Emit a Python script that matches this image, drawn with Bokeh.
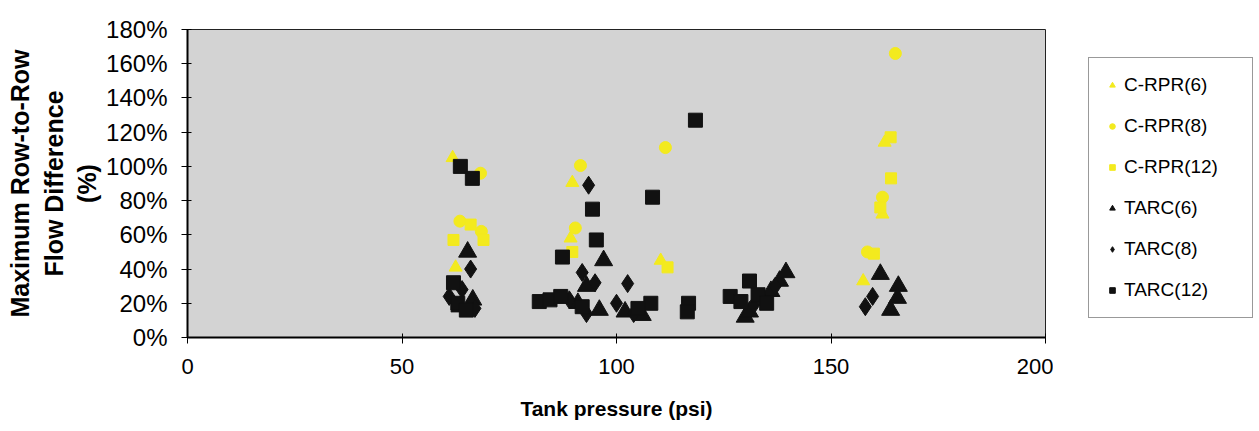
from bokeh.plotting import figure
from bokeh.layouts import row
from bokeh.models import Legend, LegendItem, NumeralTickFormatter, FixedTicker, Range1d
from bokeh.embed import file_html
from bokeh.resources import INLINE

# Tank pressure (psi) and maximum row-to-row flow difference (fraction)
crpr6_x = [61.8, 62.5, 89.7, 89.3, 110.3, 162.5, 162.0, 157.5]
crpr6_y = [1.05, 0.41, 0.905, 0.58, 0.45, 1.14, 0.72, 0.33]

crpr8_x = [68.3, 63.5, 68.5, 91.6, 90.4, 111.4, 165.0, 162.0, 158.5]
crpr8_y = [0.96, 0.68, 0.62, 1.005, 0.64, 1.11, 1.66, 0.82, 0.50]

crpr12_x = [66.0, 69.0, 62.0, 89.7, 111.9, 163.9, 164.0, 160.0, 161.5]
crpr12_y = [0.66, 0.57, 0.57, 0.50, 0.41, 1.17, 0.93, 0.49, 0.76]

tarc6_x = [65.3, 66.5, 97.0, 93.0, 91.0, 96.0, 102.0, 106.0, 130.0, 131.0, 136.0, 138.0, 139.5,
           161.5, 165.7, 165.5, 163.9, 63.5]
tarc6_y = [0.50, 0.22, 0.45, 0.30, 0.20, 0.16, 0.15, 0.13, 0.12, 0.15, 0.27, 0.33, 0.38,
           0.37, 0.30, 0.23, 0.16, 0.18]

tarc8_x = [93.5, 102.6, 66.0, 92.0, 95.0, 89.0, 93.0, 100.0, 104.0, 132.0, 134.0, 137.0,
           159.7, 158.0, 64.0, 61.0, 67.0]
tarc8_y = [0.89, 0.315, 0.40, 0.38, 0.32, 0.22, 0.14, 0.20, 0.14, 0.19, 0.22, 0.30,
           0.24, 0.18, 0.28, 0.24, 0.17]

tarc12_x = [63.6, 66.4, 87.4, 94.4, 95.3, 108.4, 118.4, 62.0, 63.0, 82.0, 84.5, 87.0,
            108.0, 105.0, 116.8, 116.5, 126.5, 129.0, 131.0, 133.0, 135.0, 92.0, 65.0]
tarc12_y = [1.00, 0.93, 0.47, 0.75, 0.57, 0.82, 1.27, 0.32, 0.20, 0.21, 0.22, 0.24,
            0.20, 0.17, 0.20, 0.15, 0.24, 0.21, 0.33, 0.25, 0.20, 0.18, 0.16]

series_labels = ["C-RPR(6)", "C-RPR(8)", "C-RPR(12)", "TARC(6)", "TARC(8)", "TARC(12)"]
y_ticks = [0, 0.2, 0.4, 0.6, 0.8, 1.0, 1.2, 1.4, 1.6, 1.8]
x_ticks = [0, 50, 100, 150, 200]

YEL = "#f3ea1e"
BLK = "#111111"
FONT = "Liberation Sans"

styles = [
    dict(marker="triangle", size=13, fill_color=YEL, line_color=YEL),
    dict(marker="circle", size=12, fill_color=YEL, line_color=YEL),
    dict(marker="square", size=11, fill_color=YEL, line_color=YEL),
    dict(marker="triangle", size=18, fill_color=BLK, line_color=BLK),
    dict(marker="diamond", size=18, fill_color=BLK, line_color=BLK),
    dict(marker="square", size=14, fill_color=BLK, line_color=BLK),
]
series = [(crpr6_x, crpr6_y), (crpr8_x, crpr8_y), (crpr12_x, crpr12_y),
          (tarc6_x, tarc6_y), (tarc8_x, tarc8_y), (tarc12_x, tarc12_y)]

MAIN_W = 1053
p = figure(width=MAIN_W, height=431, output_backend="svg", toolbar_location=None,
           x_range=Range1d(0, 200), y_range=Range1d(0, 1.8),
           min_border_left=187, min_border_right=MAIN_W - 1045, min_border_top=29,
           min_border_bottom=94)
p.background_fill_color = "#d3d3d3"
p.border_fill_color = "white"
p.outline_line_color = "#222222"
p.outline_line_width = 1
p.xgrid.visible = False
p.ygrid.visible = False

for (xs, ys), st in zip(series, styles):
    p.scatter(xs, ys, **st)

for ax in (p.xaxis[0], p.yaxis[0]):
    ax.axis_line_color = "black"
    ax.axis_line_width = 2
    ax.major_tick_line_color = "black"
    ax.major_tick_line_width = 1
    ax.major_tick_in = 4
    ax.major_tick_out = 6
    ax.minor_tick_line_color = None
    ax.major_label_text_color = "black"
    ax.axis_label_text_color = "black"

p.yaxis.ticker = FixedTicker(ticks=y_ticks)
p.yaxis.formatter = NumeralTickFormatter(format="0%")
p.yaxis.major_label_text_font = FONT
p.yaxis.major_label_text_font_size = "24px"
p.yaxis.major_label_standoff = 14
p.yaxis.axis_label = "Maximum Row-to-Row\nFlow Difference\n(%)"
p.yaxis.axis_label_text_font = FONT
p.yaxis.axis_label_text_font_style = "bold"
p.yaxis.axis_label_text_font_size = "25px"
p.yaxis.axis_label_standoff = 2

p.xaxis.ticker = FixedTicker(ticks=x_ticks)
p.xaxis.major_label_text_font = FONT
p.xaxis.major_label_text_font_size = "22px"
p.xaxis.major_label_standoff = 15
p.xaxis.axis_label = "Tank pressure (psi)"
p.xaxis.axis_label_text_font = FONT
p.xaxis.axis_label_text_font_style = "bold"
p.xaxis.axis_label_text_font_size = "21px"
p.xaxis.axis_label_standoff = 20

# Legend panel (separate figure so the legend sits outside the plot frame);
# its renderers hold the same series but are hidden, only their legend glyphs show.
LEG_W = 1259 - MAIN_W
q = figure(width=LEG_W, height=431, output_backend="svg", toolbar_location=None,
           x_axis_type=None, y_axis_type=None,
           x_range=Range1d(0, 200), y_range=Range1d(0, 1.8),
           min_border_left=0, min_border_right=0, min_border_top=29, min_border_bottom=94)
q.outline_line_color = None
q.xgrid.visible = False
q.ygrid.visible = False
q.background_fill_color = "white"
q.border_fill_color = "white"

items = []
for (xs, ys), lab, st in zip(series, series_labels, styles):
    r = q.scatter(xs, ys, visible=False, **st)
    items.append(LegendItem(label=lab, renderers=[r]))

legend = Legend(items=items, location=(1088 - MAIN_W, 337 - 318))
legend.label_text_font = FONT
legend.label_text_font_size = "19px"
legend.label_text_color = "black"
legend.glyph_width = 14
legend.glyph_height = 20
legend.label_height = 20
legend.label_width = 112
legend.label_standoff = 5
legend.spacing = 19
legend.padding = 16
legend.margin = 0
legend.inactive_fill_alpha = 0.0
legend.border_line_color = "#333333"
legend.border_line_width = 1
legend.background_fill_color = "white"
legend.background_fill_alpha = 1.0
q.add_layout(legend, "center")

layout = row(p, q)
open("out.html", "w").write(file_html(layout, INLINE))
